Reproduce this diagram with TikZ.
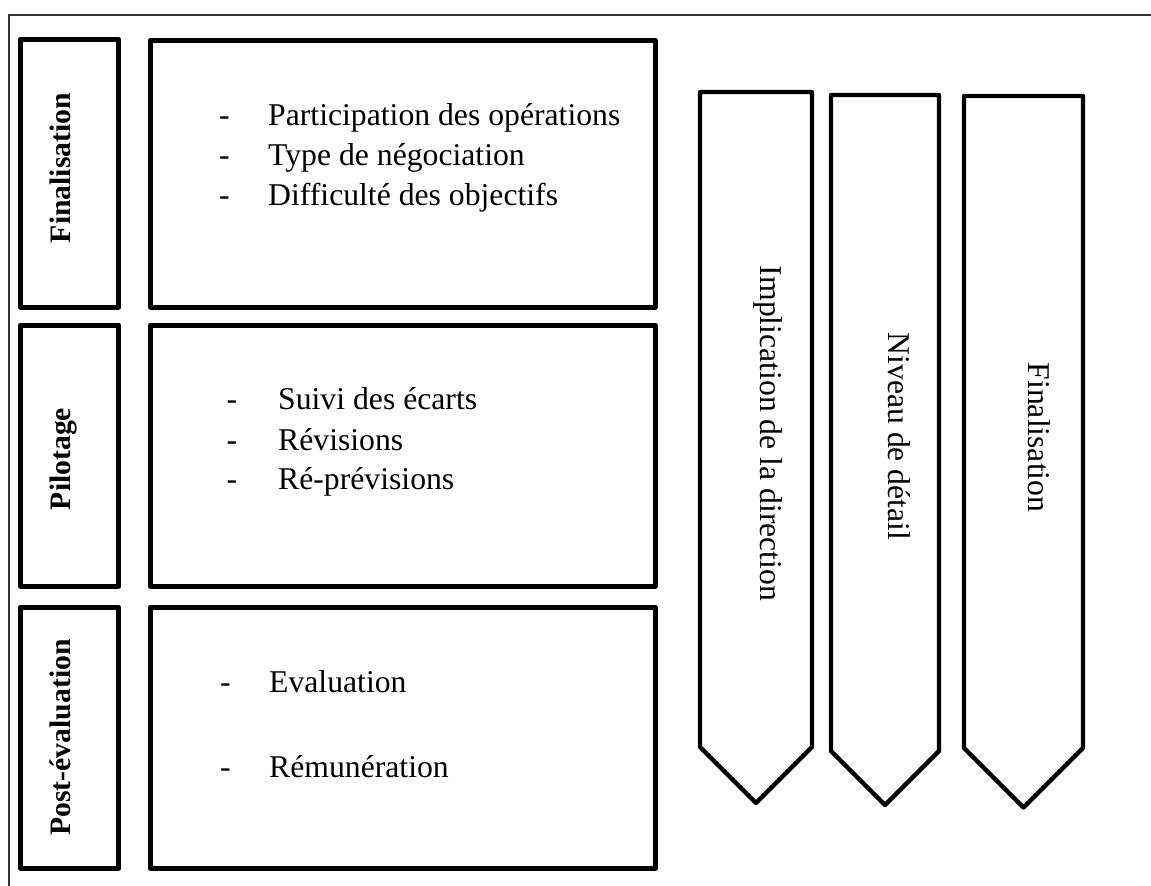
\documentclass[tikz,border=0pt]{standalone}
\usepackage{fontspec}
\setmainfont{Liberation Serif}
\begin{document}
\begin{tikzpicture}[x=1pt,y=-1pt,
  frame/.style={draw=black!80, line width=1.8pt},
  phasebox/.style={draw, line width=5pt, line join=round, inner sep=0pt},
  chevron/.style={draw, line width=4.3pt, line join=round},
  phaselabel/.style={font=\fontsize{29.7}{36}\selectfont\bfseries, rotate=90, anchor=base, inner sep=0pt},
  item/.style={font=\fontsize{31.7}{38}\selectfont, anchor=base west, inner sep=0pt},
  bullet/.style={font=\fontsize{31.7}{38}\selectfont, anchor=base, inner sep=0pt},
  axislabel/.style={font=\fontsize{31.7}{38}\selectfont, rotate=-90, anchor=base, inner sep=0pt}]
\useasboundingbox (0,0) rectangle (1151,886);

% outer frame (only its top and left sides fall inside the page)
\begin{scope}
  \clip (0,0) rectangle (1151,886);
  \draw[frame] (9,900) -- (9,15) -- (1170,15);
\end{scope}

% phase name boxes
\node[phasebox, minimum width=98pt, minimum height=268pt] (p1) at (69.5,173) {};
\node[phasebox, minimum width=98pt, minimum height=261pt] (p2) at (69.5,455.5) {};
\node[phasebox, minimum width=98pt, minimum height=261pt] (p3) at (69.5,737.5) {};

\node[phaselabel] (l1) at (70,168) {Finalisation};
\node[phaselabel] (l2) at (70,459) {Pilotage};
\node[phaselabel] (l3) at (70,737.5) {Post-évaluation};

% content boxes
\node[phasebox, minimum width=504.5pt, minimum height=267pt] (c1) at (402.75,173.5) {};
\node[phasebox, minimum width=504.5pt, minimum height=261pt] (c2) at (402.75,455.5) {};
\node[phasebox, minimum width=504.5pt, minimum height=261pt] (c3) at (402.75,737.5) {};

% items of the first phase
\node[bullet] (b11) at (224.5,125) {-};
\node[bullet] (b12) at (224.5,165) {-};
\node[bullet] (b13) at (224.5,205) {-};
\node[item] (i11) at (268,125) {Participation des opérations};
\node[item] (i12) at (268,165) {Type de négociation};
\node[item] (i13) at (268,205) {Difficulté des objectifs};

% items of the second phase
\node[bullet] (b21) at (232,409) {-};
\node[bullet] (b22) at (232,450) {-};
\node[bullet] (b23) at (232,489) {-};
\node[item] (i21) at (278,409) {Suivi des écarts};
\node[item] (i22) at (278,450) {Révisions};
\node[item] (i23) at (278,489) {Ré-prévisions};

% items of the third phase
\node[bullet] (b31) at (225.5,692) {-};
\node[bullet] (b32) at (225.5,777) {-};
\node[item] (i31) at (269,692) {Evaluation};
\node[item] (i32) at (269,777) {Rémunération};

% downward chevrons
\draw[chevron] (700,92) -- (812,92) -- (812,747) -- (756,803) -- (700,747) -- cycle;
\draw[chevron] (831,95) -- (939,95) -- (939,751) -- (885,805) -- (831,751) -- cycle;
\draw[chevron] (964,96) -- (1083,96) -- (1083,748) -- (1023.5,807.5) -- (964,748) -- cycle;

\node[axislabel] (a1) at (760,433.5) {Implication de la direction};
\node[axislabel] (a2) at (888,436.5) {Niveau de détail};
\node[axislabel] (a3) at (1028,437.5) {Finalisation};
\end{tikzpicture}
\end{document}
